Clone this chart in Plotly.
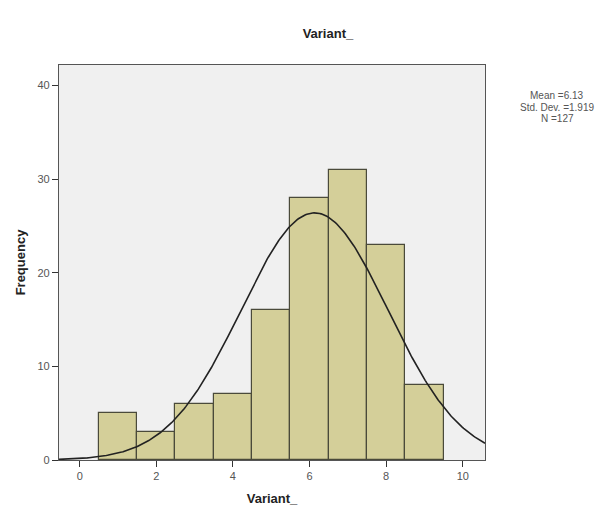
import numpy as np
import plotly.graph_objects as go

# Data
bin_centers = [1, 2, 3, 4, 5, 6, 7, 8, 9]
frequencies = [5, 3, 6, 7, 16, 28, 31, 23, 8]
bin_width = 1
mean_val = 6.13
std_val = 1.919
n_val = 127
x_ticks = [0, 2, 4, 6, 8, 10]
y_ticks = [0, 10, 20, 30, 40]
stats_lines = ["Mean =6.13", "Std. Dev. =1.919", "N =127"]

x_range = [-0.54, 10.58]
y_range = [0, 42.2]

xs = np.linspace(x_range[0], x_range[1], 300)
ys = n_val * bin_width / (std_val * np.sqrt(2 * np.pi)) * np.exp(-0.5 * ((xs - mean_val) / std_val) ** 2)

fig = go.Figure()
fig.add_trace(go.Bar(
    x=bin_centers, y=frequencies, width=[bin_width] * len(bin_centers),
    marker=dict(color="#d4cf99", line=dict(color="#4a4a3a", width=1.2)),
    hoverinfo="x+y", showlegend=False,
))
fig.add_trace(go.Scatter(
    x=xs, y=ys, mode="lines", line=dict(color="#222222", width=1.6),
    showlegend=False, hoverinfo="skip",
))

annotations = []
for i, line in enumerate(stats_lines):
    annotations.append(dict(
        text=line, xref="paper", yref="paper", x=1.17, y=0.922 - i * 0.029,
        xanchor="center", yanchor="middle", showarrow=False,
        font=dict(size=10, color="#555555"),
    ))

fig.update_layout(
    width=598, height=507,
    margin=dict(l=43, r=121, t=57, b=49),
    paper_bgcolor="white",
    plot_bgcolor="#f0f0f0",
    font=dict(family="Liberation Sans, Arial, sans-serif", color="#444444", size=11),
    title=dict(text="<b>Variant_</b>", x=0.535, xanchor="center", y=0.95, yanchor="middle",
               font=dict(size=13, color="#222222")),
    bargap=0,
    annotations=annotations,
)
fig.update_xaxes(
    range=x_range, tickvals=x_ticks, ticks="outside", ticklen=6, tickcolor="#333333",
    showgrid=False, zeroline=False, showline=True, linecolor="#555555", linewidth=1.2, mirror=True,
    title=dict(text="<b>Variant_</b>", font=dict(size=13, color="#222222"), standoff=12),
    tickfont=dict(size=11, color="#555555"),
)
fig.update_yaxes(
    range=y_range, tickvals=y_ticks, ticks="outside", ticklen=6, tickcolor="#333333",
    showgrid=False, zeroline=False, showline=True, linecolor="#555555", linewidth=1.2, mirror=True,
    title=dict(text="<b>Frequency</b>", font=dict(size=13, color="#222222"), standoff=8),
    tickfont=dict(size=11, color="#555555"),
)

fig.write_html("out.html")
